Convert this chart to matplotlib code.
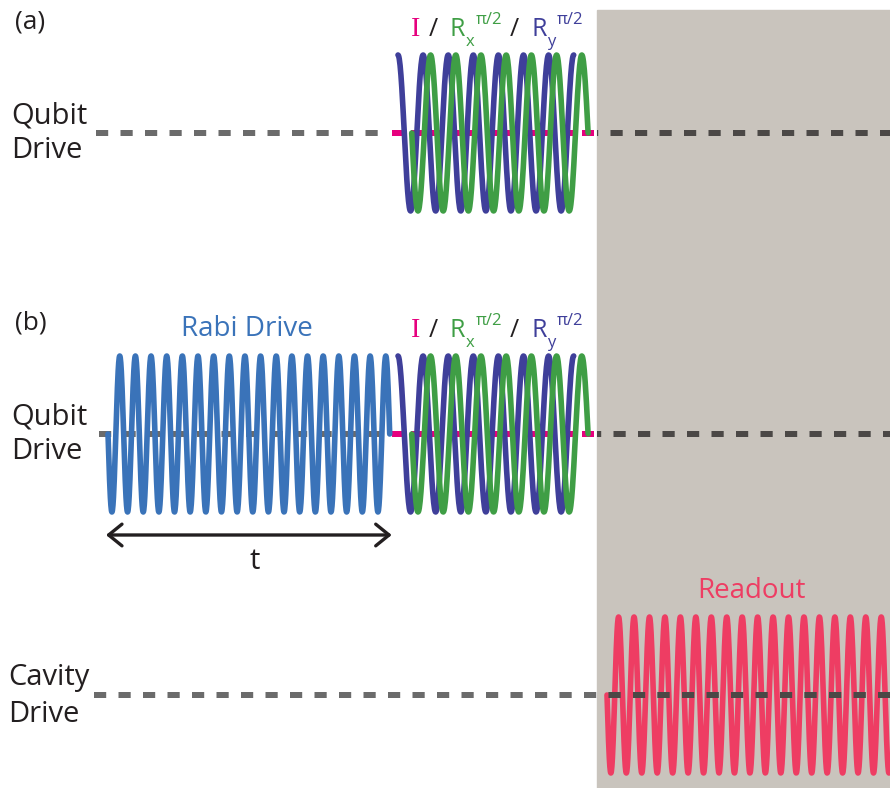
import numpy as np
import matplotlib; matplotlib.use("Agg")
import matplotlib.pyplot as plt
from matplotlib.patches import Rectangle

plt.rcParams["font.family"] = ["Open Sans", "DejaVu Sans"]
plt.rcParams["lines.scale_dashes"] = False

W, H = 890, 788            # canvas in pixels, axes use pixel units (y down)
PT = 72 / 100              # points per pixel at dpi 100

# ---- data -------------------------------------------------------------
row_labels = ["(a)", "(b)"]
row_y = [133, 434]                 # qubit drive baselines
cavity_y = 695
amp = 78                           # pulse half-height (px)

# pulses: start x, phase at start (cycles), period (px), number of cycles
# Ry / Rx tomography pulses repeat in both rows
ry_start, ry_phase, ry_period, ry_cycles = 398.0, 0.75, 25.1, 7.0
rx_start, rx_phase, rx_period, rx_cycles = 411.7, 0.0, 25.2, 7.0
rabi_start, rabi_phase, rabi_period, rabi_cycles = 108.0, 0.0, 15.65, 18.0
ro_start, ro_phase, ro_period, ro_cycles = 607.0, 0.0, 15.45, 18.6

qubit_dash_x = [[96, 390], [99, 390]]     # grey dashes before the pink segment
pink_x = [392, 598]
cavity_dash_x = [94, 890]
panel_x = 597
panel_top = 10

C_GREY, C_GREY_DK = "#6b6b6b", "#4b4846"
C_PANEL = "#c9c4bd"
C_PINK, C_GREEN, C_INDIGO = "#e6007e", "#3f9e45", "#3f3f9a"
C_RABI, C_RO, C_TXT = "#3a73b9", "#ee3d63", "#231f20"


def pulse(x0, phase, period, cycles):
    x = np.linspace(x0, x0 + cycles * period, int(cycles * 60))
    return x, -np.sin(2 * np.pi * (phase + (x - x0) / period))


fig = plt.figure(figsize=(W / 100, H / 100), dpi=100)
ax = fig.add_axes([0, 0, 1, 1])
ax.set_xlim(0, W); ax.set_ylim(H, 0); ax.axis("off")

panel = Rectangle((panel_x, panel_top), W - panel_x, H - panel_top, color=C_PANEL, zorder=0)
ax.add_patch(panel)

dash = dict(lw=6 * PT, ls=(0, (12.2 * PT, 12.3 * PT)), dash_capstyle="butt", solid_capstyle="butt")
wave = dict(lw=5.6 * PT, solid_capstyle="round")

for i, y0 in enumerate(row_y):
    xa, xb = qubit_dash_x[i]
    ax.plot([xa, xb], [y0, y0], color=C_GREY, zorder=1, **dash)
    dk, = ax.plot([xa, W], [y0, y0], color=C_GREY_DK, zorder=1, **dash)
    dk.set_clip_path(panel)   # darker dashes on the grey readout panel
    ax.plot(pink_x, [y0, y0], color=C_PINK, zorder=1, lw=6 * PT,
            ls=(0, (12 * PT, 7 * PT)), dash_capstyle="butt")
    x, s = pulse(ry_start, ry_phase, ry_period, ry_cycles)
    ax.plot(x, y0 - amp * s, color=C_INDIGO, zorder=2, **wave)
    x, s = pulse(rx_start, rx_phase, rx_period, rx_cycles)
    ax.plot(x, y0 - amp * s, color=C_GREEN, zorder=3, **wave)

    # labels left
    ax.text(15, y0 - 111, row_labels[i], fontsize=19, color=C_TXT, ha="left", va="center")
    ax.text(11, y0 - 10, "Qubit", fontsize=21, color=C_TXT, ha="left", va="baseline")
    ax.text(11, y0 + 25, "Drive", fontsize=21, color=C_TXT, ha="left", va="baseline")

    # I / Rx / Ry label
    b = y0 - 97
    ax.text(411, b, "I", fontsize=20, color=C_PINK, family="Liberation Serif", va="baseline")
    ax.text(429, b, "/", fontsize=18, color=C_TXT, va="baseline")
    ax.text(450, b, "R", fontsize=18, color=C_GREEN, va="baseline")
    ax.text(466, b + 10, "x", fontsize=12, color=C_GREEN, va="baseline")
    ax.text(476, b - 12, "π/2", fontsize=12, color=C_GREEN, va="baseline")
    ax.text(510, b, "/", fontsize=18, color=C_TXT, va="baseline")
    ax.text(531, b, "R", fontsize=18, color=C_INDIGO, va="baseline")
    ax.text(547, b + 10, "y", fontsize=12, color=C_INDIGO, va="baseline")
    ax.text(557, b - 12, "π/2", fontsize=12, color=C_INDIGO, va="baseline")

# Rabi drive
y0 = row_y[1]
x, s = pulse(rabi_start, rabi_phase, rabi_period, rabi_cycles)
ax.plot(x, y0 - amp * s, color=C_RABI, zorder=2, **wave)
ax.text(247, 336, "Rabi Drive", fontsize=20, color=C_RABI, ha="center", va="baseline")
ax.annotate("", xy=(rabi_start - 2, 535), xytext=(rabi_start + rabi_cycles * rabi_period + 2, 535),
            arrowprops=dict(arrowstyle="<->,head_length=0.8,head_width=0.65", lw=2.4, color=C_TXT,
                            shrinkA=0, shrinkB=0, mutation_scale=12))
ax.text(255, 569, "t", fontsize=21, color=C_TXT, ha="center", va="baseline")

# cavity drive / readout
x, s = pulse(ro_start, ro_phase, ro_period, ro_cycles)
ax.plot(x, cavity_y - amp * s, color=C_RO, zorder=2, **wave)
ax.plot(cavity_dash_x, [cavity_y] * 2, color=C_GREY, zorder=1, **dash)
dk, = ax.plot(cavity_dash_x, [cavity_y] * 2, color=C_GREY_DK, zorder=3, **dash)
dk.set_clip_path(panel)
ax.text(751, 598, "Readout", fontsize=20, color=C_RO, ha="center", va="baseline")
ax.text(8, 685, "Cavity", fontsize=21, color=C_TXT, ha="left", va="baseline")
ax.text(8, 722, "Drive", fontsize=21, color=C_TXT, ha="left", va="baseline")

fig.savefig("out.png", dpi=100)
